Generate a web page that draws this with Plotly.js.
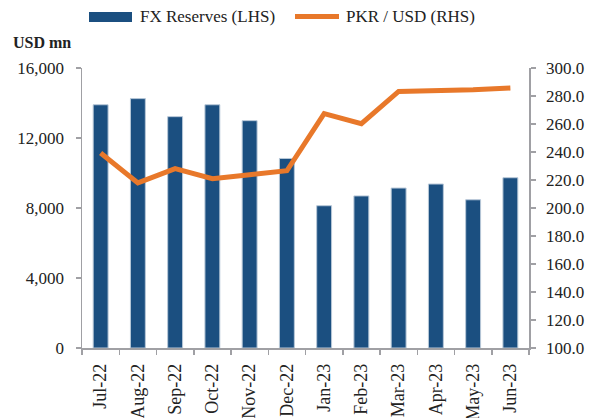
<!DOCTYPE html>
<html><head><meta charset="utf-8">
<script src="https://cdn.plot.ly/plotly-3.0.1.min.js"></script>
<style>html,body{margin:0;padding:0;background:#fff}#chart{width:592px;height:418px}</style>
</head><body><div id="chart"></div>
<script>
const months = ["Jul-22","Aug-22","Sep-22","Oct-22","Nov-22","Dec-22","Jan-23","Feb-23","Mar-23","Apr-23","May-23","Jun-23"];
const fxReserves = [13900, 14250, 13220, 13900, 12990, 10830, 8130, 8690, 9140, 9370, 8470, 9730];
const pkrUsd = [239.3, 217.9, 228.1, 220.9, 223.8, 226.6, 267.4, 260.2, 283.3, 283.5, 284.5, 285.7];
const seriesNames = ["FX Reserves (LHS)", "PKR / USD (RHS)"];
const yLabel = "USD mn";

const blue = "#1b4f80", orange = "#e8782a", axisGray = "#a0a0a4";
const font = {family: "Liberation Serif, serif", size: 17, color: "#222"};
const xFont = {family: "Liberation Serif, serif", size: 18, color: "#222"};

// plot area in px: x 82..529, y 68..348
const px = v => (v - 82) / 447;
const py = v => (348 - v) / 280;

const traces = [
  {type: "bar", x: months, y: fxReserves, name: seriesNames[0], width: 0.4,
   marker: {color: blue, line: {color: "#b8c8d8", width: 1}}},
  {type: "scatter", mode: "lines", x: months, y: pkrUsd, yaxis: "y2", name: seriesNames[1],
   line: {color: orange, width: 5}}
];

const layout = {
  width: 592, height: 418,
  margin: {l: 82, r: 63, t: 68, b: 70, autoexpand: false},
  paper_bgcolor: "#fff", plot_bgcolor: "#fff",
  font: font,
  showlegend: false,
  xaxis: {type: "category", showline: true, linecolor: axisGray, linewidth: 1.5,
          ticks: "outside", ticklen: 5, tickcolor: axisGray, tickwidth: 1.5,
          tickson: "boundaries", tickangle: -90, showgrid: false, zeroline: false,
          tickfont: xFont, ticklabelstandoff: 7, automargin: false},
  yaxis: {range: [0, 16000], dtick: 4000, tickformat: ",", showline: true,
          linecolor: axisGray, linewidth: 1.5, ticks: "outside", ticklen: 5,
          tickcolor: axisGray, tickwidth: 1.5, showgrid: false, zeroline: false,
          tickfont: font, ticklabelstandoff: 8, automargin: false},
  yaxis2: {range: [100, 300], dtick: 20, tickformat: ".1f", overlaying: "y", side: "right",
           showline: true, linecolor: axisGray, linewidth: 1.5, ticks: "outside", ticklen: 5,
           tickcolor: axisGray, tickwidth: 1.5, showgrid: false, zeroline: false,
           tickfont: font, ticklabelstandoff: 7, automargin: false},
  shapes: [
    {type: "rect", xref: "paper", yref: "paper", x0: px(89), x1: px(132), y0: py(22), y1: py(12),
     fillcolor: blue, line: {width: 0}},
    {type: "line", xref: "paper", yref: "paper", x0: px(295), x1: px(339), y0: py(16.5), y1: py(16.5),
     line: {color: orange, width: 5}}
  ],
  annotations: [
    {text: "<b>" + yLabel + "</b>", xref: "paper", yref: "paper",
     x: px(11), y: py(42), xanchor: "left", yanchor: "middle", showarrow: false,
     font: {family: "Liberation Serif, serif", size: 16, color: "#222"}},
    {text: seriesNames[0], xref: "paper", yref: "paper", x: px(138), y: py(17),
     xanchor: "left", yanchor: "middle", showarrow: false, font: font},
    {text: seriesNames[1], xref: "paper", yref: "paper", x: px(344), y: py(17),
     xanchor: "left", yanchor: "middle", showarrow: false, font: font}
  ]
};

Plotly.newPlot("chart", traces, layout, {displayModeBar: false, staticPlot: true});
</script></body></html>
